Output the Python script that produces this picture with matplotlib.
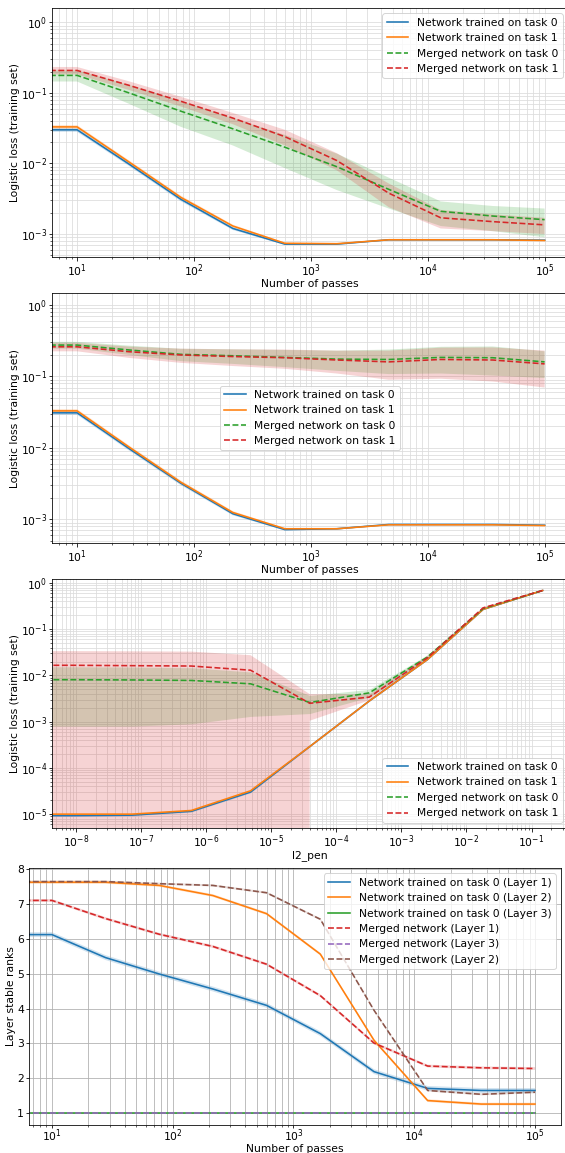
import numpy as np
import matplotlib
matplotlib.use("Agg")
import matplotlib.pyplot as plt

# data
passes = [1, 10, 27.8, 77.4, 215, 599, 1668, 4642, 12915, 35938, 100000]

# panel 1
p1_net0 = [0.030, 0.030, 0.0098, 0.0031, 0.0012, 0.00072, 0.00072, 0.00083, 0.00083, 0.00083, 0.00082]
p1_net1 = [0.033, 0.033, 0.0105, 0.0033, 0.0013, 0.00074, 0.00073, 0.00083, 0.00083, 0.00083, 0.00081]
p1_net_std = [0.002, 0.002, 0.0006, 0.0002, 0.00006, 0.00002, 0.00002, 0.00001, 0.00001, 0.00001, 0.00001]
p1_m0 = [0.177, 0.177, 0.10, 0.055, 0.031, 0.017, 0.009, 0.0043, 0.0021, 0.0018, 0.0016]
p1_m0_std = [0.032, 0.032, 0.03, 0.022, 0.013, 0.0084, 0.0048, 0.002, 0.0008, 0.0007, 0.0007]
p1_m1 = [0.208, 0.208, 0.128, 0.076, 0.044, 0.024, 0.011, 0.0038, 0.0017, 0.0015, 0.00135]
p1_m1_std = [0.025, 0.025, 0.018, 0.012, 0.008, 0.006, 0.003, 0.0014, 0.0005, 0.0004, 0.00035]

# panel 2
p2_net0 = [0.031, 0.031, 0.0098, 0.0032, 0.0012, 0.00072, 0.00074, 0.00085, 0.00085, 0.00085, 0.00083]
p2_net1 = [0.033, 0.033, 0.0103, 0.0033, 0.00125, 0.00074, 0.00074, 0.00084, 0.00084, 0.00084, 0.00082]
p2_net_std = [0.002, 0.002, 0.0006, 0.0002, 0.00006, 0.00002, 0.00002, 0.00001, 0.00001, 0.00001, 0.00001]
p2_m0 = [0.275, 0.275, 0.235, 0.204, 0.195, 0.185, 0.175, 0.173, 0.185, 0.183, 0.16]
p2_m0_std = [0.03, 0.03, 0.035, 0.04, 0.045, 0.05, 0.055, 0.065, 0.075, 0.08, 0.065]
p2_m1 = [0.26, 0.26, 0.222, 0.2, 0.19, 0.183, 0.17, 0.16, 0.173, 0.17, 0.15]
p2_m1_std = [0.035, 0.035, 0.04, 0.045, 0.05, 0.055, 0.06, 0.07, 0.08, 0.085, 0.08]

# panel 3
l2_pen = [1e-9, 8.9e-9, 7.2e-8, 5.9e-7, 4.8e-6, 3.9e-5, 3.2e-4, 2.5e-3, 1.8e-2, 1.48e-1]
l2_ticks = [1e-8, 1e-7, 1e-6, 1e-5, 1e-4, 1e-3, 1e-2, 1e-1]
p3_net0 = [9.3e-6, 9.3e-6, 9.5e-6, 1.15e-5, 3.0e-5, 2.9e-4, 2.8e-3, 0.022, 0.27, 0.69]
p3_net1 = [1.0e-5, 1.0e-5, 1.0e-5, 1.2e-5, 3.2e-5, 2.9e-4, 2.8e-3, 0.022, 0.27, 0.69]
p3_net_std = [3e-7, 3e-7, 3e-7, 4e-7, 1e-6, 5e-6, 3e-5, 3e-4, 5e-3, 5e-3]
p3_m0 = [0.0081, 0.0081, 0.008, 0.0078, 0.0066, 0.0026, 0.0042, 0.025, 0.28, 0.69]
p3_m0_std = [0.0073, 0.0073, 0.0072, 0.0069, 0.0053, 0.0011, 0.0008, 0.003, 0.01, 0.005]
p3_m1 = [0.0166, 0.0166, 0.0163, 0.016, 0.013, 0.0025, 0.0034, 0.024, 0.29, 0.69]
p3_m1_std = [0.017, 0.017, 0.017, 0.0168, 0.0145, 0.00145, 0.0005, 0.002, 0.01, 0.005]

# panel 4
p4_n_l1 = [6.12, 6.12, 5.46, 4.99, 4.56, 4.09, 3.28, 2.19, 1.71, 1.65, 1.65]
p4_n_l2 = [7.62, 7.62, 7.62, 7.53, 7.24, 6.72, 5.56, 3.09, 1.36, 1.26, 1.26]
p4_n_l3 = [1.0, 1.0, 1.0, 1.0, 1.0, 1.0, 1.0, 1.0, 1.0, 1.0, 1.0]
p4_m_l1 = [7.10, 7.10, 6.58, 6.13, 5.78, 5.27, 4.37, 3.01, 2.35, 2.30, 2.28]
p4_m_l3 = [1.0, 1.0, 1.0, 1.0, 1.0, 1.0, 1.0, 1.0, 1.0, 1.0, 1.0]
p4_m_l2 = [7.64, 7.64, 7.64, 7.58, 7.53, 7.32, 6.56, 3.95, 1.65, 1.54, 1.60]
p4_std = [0.07, 0.04, 0.0, 0.04, 0.0, 0.03]

labels = ["Network trained on task 0", "Network trained on task 1",
          "Merged network on task 0", "Merged network on task 1"]
labels4 = ["Network trained on task 0 (Layer 1)", "Network trained on task 0 (Layer 2)",
           "Network trained on task 0 (Layer 3)", "Merged network (Layer 1)",
           "Merged network (Layer 3)", "Merged network (Layer 2)"]

DPI = 72
W, H = 565, 1153
plt.rcParams['font.size'] = 10.8
fig = plt.figure(figsize=(W / DPI, H / DPI), dpi=DPI)

def rect(l, t, r, b):
    return [l / W, (H - b) / H, (r - l) / W, (b - t) / H]

def band(ax, x, m, s, color, ls, label):
    m = np.array(m); s = np.array(s)
    ax.plot(x, m, ls, color=color, lw=1.6, label=label)
    ax.fill_between(x, m - s, m + s, color=color, alpha=0.2, lw=0)

def loss_panel(ax, x, series, xlabel):
    cols = ['C0', 'C1', 'C2', 'C3']
    styles = ['-', '-', '--', '--']
    for (m, s), c, st, lab in zip(series, cols, styles, labels):
        band(ax, x, m, s, c, st, lab)
    ax.set_xscale('log')
    ax.set_yscale('log')
    ax.grid(True, which='both', color='#dcdcdc', lw=0.8)
    ax.set_axisbelow(True)
    ax.tick_params(which='both', pad=1.5)
    ax.set_xlabel(xlabel, labelpad=0)
    ax.set_ylabel("Logistic loss (training set)", labelpad=1)

ax1 = fig.add_axes(rect(52, 8, 568, 257))
loss_panel(ax1, passes, [(p1_net0, p1_net_std), (p1_net1, p1_net_std),
                         (p1_m0, p1_m0_std), (p1_m1, p1_m1_std)], "Number of passes")
ax1.set_xlim(10**0.785, 10**5.2)
ax1.set_ylim(10**-3.325, 10**0.203)
ax1.legend(loc='upper right')

ax2 = fig.add_axes(rect(52, 293, 568, 543))
loss_panel(ax2, passes, [(p2_net0, p2_net_std), (p2_net1, p2_net_std),
                         (p2_m0, p2_m0_std), (p2_m1, p2_m1_std)], "Number of passes")
ax2.set_xlim(10**0.785, 10**5.2)
ax2.set_ylim(10**-3.33, 10**0.168)
ax2.legend(loc='center')

ax3 = fig.add_axes(rect(52, 579, 568, 828))
loss_panel(ax3, l2_pen, [(p3_net0, p3_net_std), (p3_net1, p3_net_std),
                         (p3_m0, p3_m0_std), (p3_m1, p3_m1_std)], "l2_pen")
ax3.set_xticks(l2_ticks)
ax3.set_xlim(10**-8.37, 10**-0.44)
ax3.set_ylim(10**-5.3, 10**0.087)
ax3.legend(loc='lower right')

ax4 = fig.add_axes(rect(29, 868, 561, 1125))
series4 = [p4_n_l1, p4_n_l2, p4_n_l3, p4_m_l1, p4_m_l3, p4_m_l2]
styles4 = ['-', '-', '-', '--', '--', '--']
for i, (m, st, lab) in enumerate(zip(series4, styles4, labels4)):
    band(ax4, passes, m, [p4_std[i]] * len(m), 'C%d' % i, st, lab)
ax4.set_xscale('log')
ax4.set_xlim(10**0.81, 10**5.215)
ax4.set_ylim(0.66, 8.03)
ax4.grid(True, which='both', axis='x', color='#b0b0b0', lw=0.8)
ax4.grid(True, which='major', axis='y', color='#b0b0b0', lw=0.8)
ax4.tick_params(which='both', pad=1.5)
ax4.tick_params(axis='x', which='major', length=2.5, pad=0)
ax4.tick_params(axis='x', which='minor', length=1.5)
ax4.set_xlabel("Number of passes", labelpad=0)
ax4.set_ylabel("Layer stable ranks", labelpad=1)
ax4.legend(loc='upper right')

fig.savefig("out.png", dpi=DPI)
